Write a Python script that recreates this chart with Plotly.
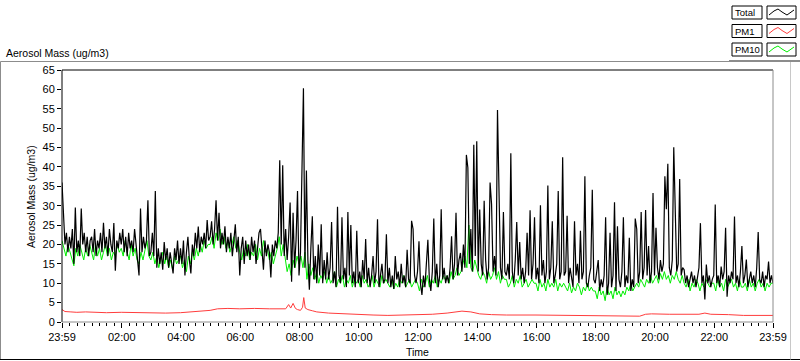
import plotly.graph_objects as go

# ---- data (x = hours elapsed since 23:59) ----
total_step_h = 3 / 60.0
total_vals = [
    36, 28, 20, 23, 18, 22, 19, 24, 15, 29.5, 18, 21, 17, 29.3, 20, 23, 18, 22, 17, 21,            # 0
    22, 18, 24, 17, 21, 19, 23, 18, 25.6, 19, 22, 17, 24, 20, 18, 25.5, 13.2, 21, 19, 23,          # 1
    20, 24, 18, 22, 17, 23, 19, 21, 18, 24, 20, 17, 12, 29.3, 18, 22, 19, 21, 31.4, 17,            # 2
    18, 23, 17, 33.8, 14, 19, 15, 18, 13.5, 20.6, 16, 19, 14, 18, 15, 12.5, 19, 16, 21, 15,        # 3
    19, 15, 21, 12, 18, 22, 16, 12.5, 20, 17, 23, 19, 24.6, 18, 22, 20, 23, 19, 26.3, 21,          # 4
    22, 26, 20, 24, 31.4, 21, 28.2, 19, 23, 20, 24.7, 18, 22, 19, 23, 17, 21, 25.2, 18, 22,        # 5
    12, 19, 22, 15, 21, 17, 20, 16, 22, 18, 21, 15, 19, 23, 24, 18, 13.5, 21, 17, 20,              # 6
    18, 11.5, 20, 17, 21, 19, 23, 41.7, 20, 40.4, 17, 24, 16, 22, 30.8, 10.4, 28.2, 14, 21, 33.8,  # 7
    12, 18, 44.3, 60.3, 14, 39.1, 16, 8.3, 19, 27.3, 11, 17, 10, 20, 12, 25.2, 10, 16, 11, 18,     # 8
    11, 14, 25.8, 10, 13, 9, 29.7, 12, 10, 27, 11, 14, 9, 28.4, 12, 25, 10, 13, 9, 23.5,           # 9
    10, 13, 9, 16, 11, 21.4, 10, 14, 9, 12, 17, 10, 13, 26.5, 9, 12, 15, 10, 11, 22.6,             # 10
    10, 14, 9, 12, 8.5, 17, 11, 13, 9, 15, 10, 12, 9, 18.6, 11, 10, 26.1, 24, 12, 10,              # 11
    13, 20.8, 10, 7, 12, 9, 14, 21.2, 11, 8, 13, 26.7, 10, 15, 9, 12, 29.1, 11, 14, 10,            # 12
    12, 10, 14, 22.1, 11, 15, 28.2, 12, 16, 17.8, 13, 20, 14, 43.1, 39.8, 15, 24, 13, 45.7, 17,    # 13
    46.6, 13, 29, 15, 12, 31.3, 16, 11, 14, 36, 30.4, 13, 17, 12, 54.7, 35.5, 14, 11, 28.4, 13,    # 14
    12, 15, 11, 43.5, 13, 10, 16, 25.8, 12, 20.6, 11, 14, 10, 13, 23, 12, 28.8, 11, 15, 27,        # 15
    11, 14, 10, 30.1, 12, 16, 10, 13, 35.2, 11, 14, 26, 10, 12, 15, 33.8, 11, 13, 42.5, 12,        # 16
    13, 27.4, 10, 14, 11, 9, 26, 12, 15, 10, 23.5, 11, 13, 37.6, 10, 9, 12, 14, 34.1, 11,          # 17
    10, 13, 16, 8, 11, 9, 12, 27, 7, 10, 23, 9, 12, 30.9, 8, 24.7, 11, 9, 13, 27,                  # 18
    9, 12, 10, 21.7, 8, 11, 9, 26.7, 24, 10, 13, 28.4, 11, 14, 28.9, 12, 19.6, 10, 13, 33.3,       # 19
    12, 24.3, 14, 11, 16, 13, 15, 37.6, 29.1, 40.8, 14, 12, 16, 45.1, 29.9, 13, 15, 36.9, 12, 14,  # 20
    13.5, 10, 12, 9, 11, 13, 10, 12, 9, 11, 14, 25.5, 10, 12, 5.8, 14.8, 10, 12, 9, 11,            # 21
    12, 30.3, 10, 12, 9, 14.3, 11, 13, 24.3, 6.5, 12, 10, 13, 11, 27.2, 10, 12, 9, 13, 19.6,       # 22
    10, 12, 16.1, 9, 11, 13, 10, 12, 9, 14, 23.2, 11, 10, 13, 9, 12, 11, 15.6, 10, 12,             # 23
    10,
]

pm10_step_h = 4 / 60.0
pm10_vals = [
    21, 19, 17, 20, 18, 16, 14.5, 19, 17, 20, 18, 16, 19, 17, 20,
    18, 16, 20, 17, 19, 16, 18, 20, 17, 19, 16, 18, 17, 20, 18,
    19, 17, 21, 18, 16, 20, 17, 19, 16, 15, 18, 16, 19, 21, 17,
    16, 18, 15, 17, 14, 16, 18, 15, 17, 14, 16, 13.5, 17, 15, 16,
    17, 14, 16, 13, 17, 15, 18, 16, 19, 17, 20, 18, 21, 19, 20,
    20, 22, 19, 23, 21, 24, 20, 22, 19, 21, 18, 20, 22, 19, 21,
    18, 16, 19, 17, 20, 16, 18, 17, 20, 16, 19, 17, 21, 18, 19,
    16, 18, 15, 17, 19, 22, 17, 20, 16, 13, 15, 12, 16, 14, 17,
    15, 17, 14, 18, 11, 15, 12, 14, 11, 13, 10, 12, 11, 13, 10,
    12, 10, 11, 13, 9, 11, 10, 12, 9, 11, 10, 12, 9, 11, 10,
    11, 9, 12, 10, 11, 9, 10, 12, 9, 11, 10, 9, 12, 10, 11,
    10, 9, 11, 8.5, 10, 9, 11, 10, 12, 9, 10, 11, 9, 10, 11,
    10, 8, 11, 9, 10, 12, 9, 11, 10, 12, 9, 11, 10, 12, 11,
    12, 10, 13, 11, 12, 14, 12, 13, 15, 17, 14, 25, 14, 13, 16,
    14, 12, 11, 13, 12, 10, 13, 11, 12, 14, 11, 13, 10, 12, 11,
    11, 9, 10, 12, 9, 11, 10, 12, 9, 10, 11, 9, 10, 11, 10,
    10, 8, 11, 9, 10, 8, 11, 9, 10, 9, 11, 8, 10, 9, 10,
    9, 8, 10, 7.5, 9, 8, 10, 9, 7, 9, 8, 10, 8, 9, 8,
    8, 6, 9, 7, 8, 5.5, 9, 7, 8, 6, 9, 7, 8, 6.5, 8,
    7, 9, 8, 10, 8, 9, 10, 9, 11, 10, 9, 11, 10, 12, 10,
    11, 12, 10, 12.5, 11, 13, 11, 12, 10, 12, 11, 13, 11, 10, 12,
    10, 9, 11, 8, 10, 9, 11, 10, 8, 10, 9, 11, 10, 9, 10,
    10, 8, 11, 9, 10, 8, 11, 9, 10, 11, 9, 10, 8, 11, 9,
    9, 10, 8, 11, 9, 10, 8, 10, 11, 9, 10, 8, 10, 9, 10,
    10,
]

pm1_hours = [0.0, 0.1, 0.3, 0.5, 0.8, 1.0, 1.5, 2.0, 2.5, 3.0, 3.5, 4.0, 4.3, 4.7, 5.0,
             5.25, 5.6, 6.0, 6.5, 7.0, 7.4, 7.55, 7.65, 7.72, 7.8, 7.88, 7.95, 8.05, 8.12,
             8.16, 8.21, 8.3, 8.45, 8.6, 9.0, 9.5, 10.0, 10.5, 11.0, 11.5, 12.0, 12.5, 13.0,
             13.5, 13.8, 14.1, 14.5, 15.0, 16.0, 17.0, 17.8, 18.1, 19.0, 19.5, 19.7, 19.9,
             20.5, 21.0, 21.5, 21.7, 21.9, 22.5, 23.0, 24.0]
pm1_vals = [3.2, 2.7, 2.6, 2.5, 2.6, 2.5, 2.4, 2.5, 2.4, 2.3, 2.3, 2.4, 2.6, 2.8, 3.0,
            3.4, 3.5, 3.4, 3.5, 3.4, 3.3, 3.4, 4.5, 3.6, 4.8, 3.5, 3.2, 3.0, 3.8,
            6.3, 3.6, 3.2, 2.9, 2.6, 2.3, 2.1, 1.9, 1.8, 1.7, 1.8, 1.8, 2.0, 2.3,
            2.8, 2.6, 2.1, 1.9, 1.8, 1.8, 1.7, 1.7, 1.5, 1.5, 1.5, 2.0, 2.1,
            2.0, 2.0, 2.0, 2.3, 2.0, 1.9, 1.7, 1.7]

tick_labels = ["23:59", "02:00", "04:00", "06:00", "08:00", "10:00", "12:00",
               "14:00", "16:00", "18:00", "20:00", "22:00", "23:59"]
tick_hours = [0.0, 2 + 1/60, 4 + 1/60, 6 + 1/60, 8 + 1/60, 10 + 1/60, 12 + 1/60,
              14 + 1/60, 16 + 1/60, 18 + 1/60, 20 + 1/60, 22 + 1/60, 24.0]
y_ticks = list(range(0, 70, 5))

series_names = ["Total", "PM1", "PM10"]
series_colors = {"Total": "#000000", "PM1": "#ff3c3c", "PM10": "#00ee00"}

# ---- layout geometry ----
W, H = 800, 361
ML, MR, MT, MB = 62, 27, 70, 39
PW, PH = W - ML - MR, H - MT - MB


def px(x):
    return (x - ML) / PW


def py(y):
    return (H - MB - y) / PH


FONT = "Liberation Sans"

fig = go.Figure()
fig.add_trace(go.Scatter(
    x=[i * pm10_step_h for i in range(len(pm10_vals))], y=pm10_vals,
    mode="lines", line=dict(color=series_colors["PM10"], width=1), name="PM10",
    showlegend=False, hoverinfo="skip"))
fig.add_trace(go.Scatter(
    x=pm1_hours, y=pm1_vals,
    mode="lines", line=dict(color=series_colors["PM1"], width=1), name="PM1",
    showlegend=False, hoverinfo="skip"))
fig.add_trace(go.Scatter(
    x=[i * total_step_h for i in range(len(total_vals))], y=total_vals,
    mode="lines", line=dict(color=series_colors["Total"], width=1.2), name="Total",
    showlegend=False, hoverinfo="skip"))

shapes = []
# plot frame (sunken look)
shapes.append(dict(type="line", xref="paper", yref="paper", x0=0, x1=1, y0=1, y1=1,
                   line=dict(color="black", width=1)))
shapes.append(dict(type="line", xref="paper", yref="paper", x0=0, x1=0, y0=0, y1=1,
                   line=dict(color="black", width=1)))
shapes.append(dict(type="line", xref="paper", yref="paper", x0=1, x1=1, y0=0, y1=1,
                   line=dict(color="#8c8c8c", width=1)))
shapes.append(dict(type="line", xref="paper", yref="paper", x0=0, x1=1, y0=0, y1=0,
                   line=dict(color="#8c8c8c", width=1)))
# outer panel frame
shapes.append(dict(type="line", xref="paper", yref="paper", x0=px(0.5), x1=px(729), y0=py(61.5), y1=py(61.5),
                   line=dict(color="#8c8c8c", width=1)))
shapes.append(dict(type="line", xref="paper", yref="paper", x0=px(729), x1=px(800), y0=py(61), y1=py(61),
                   line=dict(color="#8c8c8c", width=2)))
shapes.append(dict(type="line", xref="paper", yref="paper", x0=px(0.5), x1=px(0.5), y0=py(61.5), y1=py(360),
                   line=dict(color="#8c8c8c", width=1)))
shapes.append(dict(type="line", xref="paper", yref="paper", x0=px(0), x1=px(800), y0=py(359.5), y1=py(359.5),
                   line=dict(color="black", width=1)))
shapes.append(dict(type="line", xref="paper", yref="paper", x0=px(790.5), x1=px(790.5), y0=py(62), y1=py(359.5),
                   line=dict(color="#c8c8c8", width=1)))

annotations = []
# legend (label boxes + line samples)
for i, name in enumerate(series_names):
    top = 6 + i * 18.5
    bot = top + 13
    shapes.append(dict(type="rect", xref="paper", yref="paper", x0=px(732), x1=px(762),
                       y0=py(bot), y1=py(top), line=dict(color="black", width=1), fillcolor="white"))
    shapes.append(dict(type="rect", xref="paper", yref="paper", x0=px(767), x1=px(796),
                       y0=py(bot), y1=py(top), line=dict(color="black", width=1), fillcolor="white"))
    zx = [769, 774, 778, 782, 787, 794]
    zy = [top + 9, top + 5, top + 3, top + 6, top + 9, top + 4]
    path = "M " + " L ".join(f"{px(a):.5f},{py(b):.5f}" for a, b in zip(zx, zy))
    shapes.append(dict(type="path", xref="paper", yref="paper", path=path,
                       line=dict(color=series_colors[name], width=1)))
    annotations.append(dict(text=name, xref="paper", yref="paper", x=px(733), y=py((top + bot) / 2),
                            xanchor="left", yanchor="middle", showarrow=False,
                            font=dict(family=FONT, size=9.5, color="black")))

annotations.append(dict(text="Aerosol Mass (ug/m3)", xref="paper", yref="paper", x=px(4), y=py(52.5),
                        xanchor="left", yanchor="middle", showarrow=False,
                        font=dict(family=FONT, size=10.5, color="black")))
annotations.append(dict(text="Aerosol Mass (ug/m3)", xref="paper", yref="paper", x=px(31), y=py(197),
                        xanchor="center", yanchor="middle", textangle=-90, showarrow=False,
                        font=dict(family=FONT, size=10.5, color="black")))
annotations.append(dict(text="Time", xref="paper", yref="paper", x=px(417), y=py(352),
                        xanchor="center", yanchor="middle", showarrow=False,
                        font=dict(family=FONT, size=10.5, color="black")))

fig.update_layout(
    width=W, height=H,
    margin=dict(l=ML, r=MR, t=MT, b=MB, pad=0),
    paper_bgcolor="white", plot_bgcolor="white",
    font=dict(family=FONT, size=11, color="black"),
    hovermode=False,
    xaxis=dict(range=[0, 24], tickmode="array", tickvals=tick_hours, ticktext=tick_labels,
               showgrid=False, zeroline=False, showline=False, fixedrange=True,
               ticks="outside", ticklen=5, tickcolor="black", tickwidth=1,
               minor=dict(ticks="outside", ticklen=3, tickcolor="black", tick0=1/60, dtick=0.25,
                          showgrid=False),
               tickfont=dict(family=FONT, size=11, color="black")),
    yaxis=dict(range=[0, 65], tickmode="array", tickvals=y_ticks,
               showgrid=False, zeroline=False, showline=False, fixedrange=True,
               ticks="outside", ticklen=4, tickcolor="black", tickwidth=1,
               tickfont=dict(family=FONT, size=11, color="black")),
    shapes=shapes,
    annotations=annotations,
    showlegend=False,
)

fig.write_html("out.html", config={"displayModeBar": False, "staticPlot": True},
               post_script="document.body.style.margin='0';document.body.style.overflow='hidden';")
